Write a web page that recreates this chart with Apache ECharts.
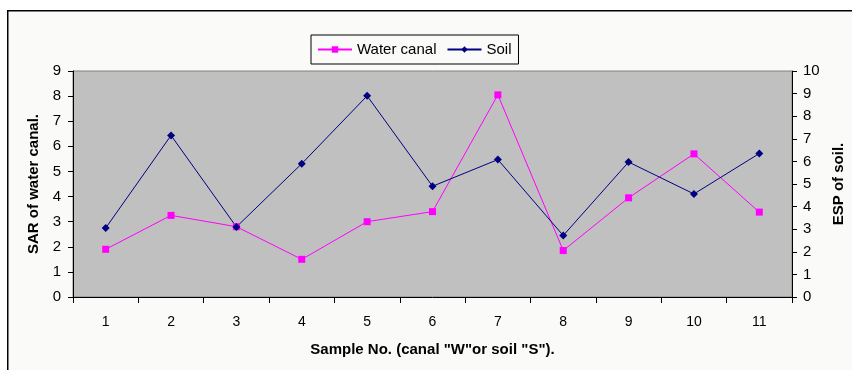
<!DOCTYPE html>
<html lang="en">
<head>
    <meta charset="UTF-8">
    <script src="https://cdn.jsdelivr.net/npm/echarts@6/dist/echarts.min.js"></script>
    <title>SAR / ESP</title>
    <style>
        html, body { margin: 0; padding: 0; background: #fff; }
    </style>
</head>
<body>
<div id="main" style="width: 852px;height:370px;"></div>
<script type="text/javascript">
    // sample numbers on the x axis
    var samples = ['1', '2', '3', '4', '5', '6', '7', '8', '9', '10', '11'];
    // SAR of water canal (left axis)
    var waterCanal = [1.9, 3.25, 2.8, 1.5, 3.0, 3.4, 8.05, 1.85, 3.95, 5.7, 3.38];
    // ESP of soil (right axis)
    var soil = [3.05, 7.15, 3.1, 5.9, 8.9, 4.9, 6.08, 2.72, 5.97, 4.56, 6.35];

    var font = 'Arial, "Liberation Sans", sans-serif';
    var myChart = echarts.init(document.getElementById('main'));

    var option = {
        backgroundColor: '#ffffff',
        textStyle: { fontFamily: font, color: '#000' },
        graphic: [{
            type: 'rect',
            left: 7, top: 10,
            shape: { width: 860, height: 380 },
            style: { fill: '#fafaf8', stroke: '#000', lineWidth: 1.5 },
            z: -10
        }],
        legend: {
            left: 311,
            top: 35,
            padding: [7, 7, 7, 6],
            itemGap: 10,
            itemWidth: 34,
            itemHeight: 8,
            borderColor: '#000',
            borderWidth: 1,
            backgroundColor: '#fafaf8',
            textStyle: { fontFamily: font, fontSize: 15, color: '#000' },
            data: ['Water canal', 'Soil']
        },
        grid: {
            left: 73,
            right: 60,
            top: 71,
            bottom: 73,
            containLabel: false,
            outerBoundsMode: 'none',
            show: true,
            backgroundColor: '#c0c0c0',
            borderColor: '#808080',
            borderWidth: 1
        },
        xAxis: {
            type: 'category',
            data: samples,
            boundaryGap: true,
            name: 'Sample No. (canal "W"or soil "S").',
            nameLocation: 'middle',
            nameGap: 45,
            nameTextStyle: { fontWeight: 'bold', fontSize: 15, color: '#000' },
            axisLine: { lineStyle: { color: '#000' } },
            axisTick: { show: true, length: 6, lineStyle: { color: '#000' } },
            axisLabel: { fontSize: 14, color: '#000', margin: 18 },
            splitLine: { show: false }
        },
        yAxis: [{
            type: 'value',
            min: 0,
            max: 9,
            interval: 1,
            name: 'SAR of water canal.',
            nameLocation: 'middle',
            nameGap: 29,
            nameTextStyle: { fontWeight: 'bold', fontSize: 15, color: '#000' },
            axisLine: { show: true, lineStyle: { color: '#000' } },
            axisTick: { show: true, length: 5, lineStyle: { color: '#000' } },
            axisLabel: { fontSize: 15, color: '#000', margin: 12 },
            splitLine: { show: false }
        }, {
            type: 'value',
            min: 0,
            max: 10,
            interval: 1,
            position: 'right',
            name: 'ESP of soil.',
            nameLocation: 'middle',
            nameGap: 39,
            nameTextStyle: { fontWeight: 'bold', fontSize: 15, color: '#000' },
            axisLine: { show: true, lineStyle: { color: '#000' } },
            axisTick: { show: true, length: 5, lineStyle: { color: '#000' } },
            axisLabel: { fontSize: 15, color: '#000', margin: 11 },
            splitLine: { show: false }
        }],
        series: [
            {
                name: 'Water canal',
                type: 'line',
                yAxisIndex: 0,
                data: waterCanal,
                symbol: 'rect',
                symbolSize: 7,
                itemStyle: { color: '#ff00ff' },
                lineStyle: { color: '#ff00ff', width: 1 }
            },
            {
                name: 'Soil',
                type: 'line',
                yAxisIndex: 1,
                data: soil,
                symbol: 'diamond',
                symbolSize: 8,
                itemStyle: { color: '#000080' },
                lineStyle: { color: '#000080', width: 1 }
            }
        ]
    };

    myChart.setOption(option);
</script>
</body>
</html>
